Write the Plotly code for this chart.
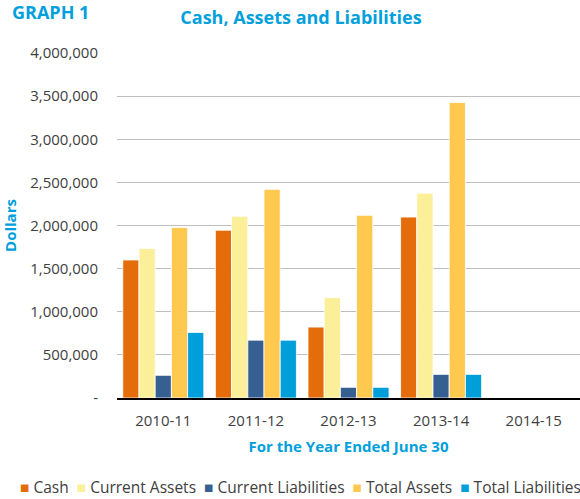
import plotly.graph_objects as go

categories = ["2010-11", "2011-12", "2012-13", "2013-14", "2014-15"]
cash = [1600000, 1945000, 822000, 2098000, None]
current_assets = [1733000, 2107000, 1165000, 2373000, None]
current_liabilities = [263000, 671000, 124000, 274000, None]
total_assets = [1976000, 2419000, 2118000, 3426000, None]
total_liabilities = [760000, 671000, 124000, 274000, None]

series_names = ["Cash", "Current Assets", "Current Liabilities", "Total Assets", "Total Liabilities"]
series_values = [cash, current_assets, current_liabilities, total_assets, total_liabilities]
series_colors = ["#E46C0A", "#FBEF9A", "#366092", "#FFC94F", "#009FDA"]

y_tick_vals = [0, 500000, 1000000, 1500000, 2000000, 2500000, 3000000, 3500000, 4000000]
y_tick_text = ["-", "500,000", "1,000,000", "1,500,000", "2,000,000", "2,500,000",
               "3,000,000", "3,500,000", "4,000,000"]

BLUE = "#00A0DC"
FONT = "Open Sans"
TXT = "#404040"

fig = go.Figure()
for name, vals, col in zip(series_names, series_values, series_colors):
    fig.add_trace(go.Bar(
        x=categories, y=vals, name=name,
        marker=dict(color=col, line=dict(color="white", width=0.8)),
    ))

legend_text = "  ".join(
    f"<span style='color:{c}'>■</span> {n}" for n, c in zip(series_names, series_colors)
)

fig.update_layout(
    width=580, height=499,
    margin=dict(l=117, r=0, t=53, b=101, autoexpand=False),
    paper_bgcolor="white", plot_bgcolor="white",
    barmode="group", bargap=0.125, bargroupgap=0,
    showlegend=False,
    font=dict(family=FONT, size=15, color=TXT),
    title=dict(
        text="<b>Cash, Assets and Liabilities</b>",
        font=dict(family=FONT, size=18, color=BLUE),
        x=301 / 580, xanchor="center", xref="container",
        y=1 - 18 / 499, yanchor="middle", yref="container",
    ),
    xaxis=dict(
        type="category", automargin=False,
        showgrid=False, showline=True, linecolor="#000000", linewidth=1.5,
        ticks="", tickfont=dict(family=FONT, size=15, color=TXT),
        ticklabelstandoff=8,
        title=dict(text="<b>For the Year Ended June 30</b>",
                   font=dict(family=FONT, size=15, color=BLUE), standoff=13),
    ),
    yaxis=dict(
        automargin=False,
        range=[0, 4000000], tickvals=y_tick_vals, ticktext=y_tick_text,
        showgrid=True, gridcolor="#BFBFBF", gridwidth=1,
        zeroline=False, ticks="", ticklabelstandoff=18,
        tickfont=dict(family=FONT, size=15, color=TXT),
        title=dict(text="<b>Dollars</b>",
                   font=dict(family=FONT, size=15, color=BLUE), standoff=9),
    ),
    annotations=[
        dict(text="<b>GRAPH 1</b>", xref="paper", yref="paper",
             x=(10 - 117) / 463, y=(398 - 12) / 345, xanchor="left", yanchor="middle",
             showarrow=False, font=dict(family=FONT, size=18, color=BLUE)),
        dict(text=legend_text, xref="paper", yref="paper",
             x=(18 - 117) / 463, y=(398 - 487) / 345, xanchor="left", yanchor="middle",
             showarrow=False, font=dict(family=FONT, size=15.5, color=TXT)),
    ],
)

fig.write_html("out.html", config={"displayModeBar": False},
               post_script="document.body.style.margin='0';")
